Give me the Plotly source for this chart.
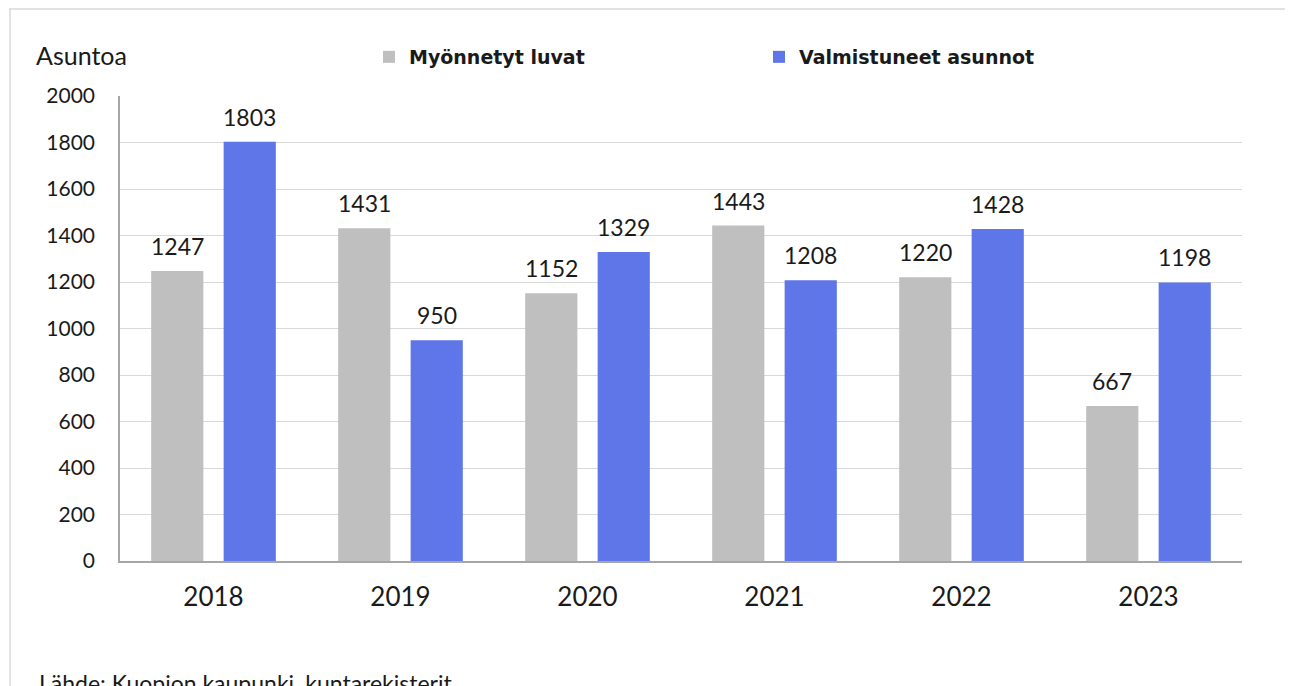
import plotly.graph_objects as go

years = ["2018", "2019", "2020", "2021", "2022", "2023"]
luvat = [1247, 1431, 1152, 1443, 1220, 667]
valmistuneet = [1803, 950, 1329, 1208, 1428, 1198]
series_names = ["Myönnetyt luvat", "Valmistuneet asunnot"]
y_ticks = [0, 200, 400, 600, 800, 1000, 1200, 1400, 1600, 1800, 2000]

FONT = "Lato"
OFF = 8  # page body margin
W, H = 1285, 678
ML, MT = 112, 88
pw, ph = 1122, 465
MR = W - ML - pw
MB = H - MT - ph

def px_x(x):  # page px -> paper
    return (x - OFF - ML) / pw

def px_y(y):
    return (MT + ph - (y - OFF)) / ph

fig = go.Figure()
fig.add_trace(go.Bar(
    x=years, y=luvat, name=series_names[0],
    marker=dict(color="#bfbfbf", line=dict(width=0)),
))
fig.add_trace(go.Bar(
    x=years, y=valmistuneet, name=series_names[1],
    marker=dict(color="#5e76e8", line=dict(width=0)),
))

annotations = []
for vals, shift in ((luvat, -36.25), (valmistuneet, 36.25)):
    for i, v in enumerate(vals):
        annotations.append(dict(
            x=i, y=v, xref="x", yref="y", text=str(v), showarrow=False,
            xshift=shift, yshift=25, xanchor="center", yanchor="middle",
            font=dict(family=FONT, size=23, color="#1a1a1a"),
        ))

annotations += [
    dict(text="Asuntoa", x=px_x(34), y=px_y(55), xref="paper", yref="paper",
         xanchor="left", yanchor="middle", showarrow=False,
         font=dict(family=FONT, size=25, color="#1a1a1a")),
    dict(text="Lähde: Kuopion kaupunki, kuntarekisterit", x=px_x(37), y=px_y(667),
         xref="paper", yref="paper", xanchor="left", yanchor="top", showarrow=False,
         font=dict(family=FONT, size=23, color="#1a1a1a")),
]

fig.update_layout(
    width=W, height=H,
    margin=dict(l=ML, r=MR, t=MT, b=MB, pad=0),
    paper_bgcolor="white", plot_bgcolor="white",
    barmode="group", bargap=0.225, bargroupgap=0.28,
    font=dict(family=FONT, color="#1a1a1a"),
    showlegend=True,
    legend=dict(
        orientation="h", x=px_x(369), y=px_y(57), xanchor="left", yanchor="middle",
        entrywidth=345, entrywidthmode="pixels",
        font=dict(family="DejaVu Sans", size=19, color="#1a1a1a", weight="bold"),
        bgcolor="rgba(0,0,0,0)", itemclick=False, itemdoubleclick=False,
    ),
    xaxis=dict(
        type="category", categoryorder="array", categoryarray=years,
        range=[-0.5, len(years) - 0.5],
        showgrid=False, showline=True, linecolor="#a6a6a6", linewidth=1.5,
        ticks="", tickfont=dict(family=FONT, size=26, color="#1a1a1a"),
        ticklabelstandoff=12,
    ),
    yaxis=dict(
        range=[0, 2000], tickvals=y_ticks, showgrid=True, gridcolor="#d9d9d9",
        gridwidth=1, showline=True, linecolor="#a6a6a6", linewidth=1.5,
        zeroline=False, ticks="", tickfont=dict(family=FONT, size=21, color="#1a1a1a"),
        ticklabelstandoff=19,
    ),
    annotations=annotations,
    shapes=[
        dict(type="line", xref="paper", yref="paper", x0=px_x(9), x1=px_x(1310),
             y0=px_y(9), y1=px_y(9), line=dict(color="#d9d9d9", width=1.5)),
        dict(type="line", xref="paper", yref="paper", x0=px_x(10), x1=px_x(10),
             y0=px_y(9), y1=px_y(720), line=dict(color="#d9d9d9", width=1.5)),
    ],
)

fig.write_html("out.html")
